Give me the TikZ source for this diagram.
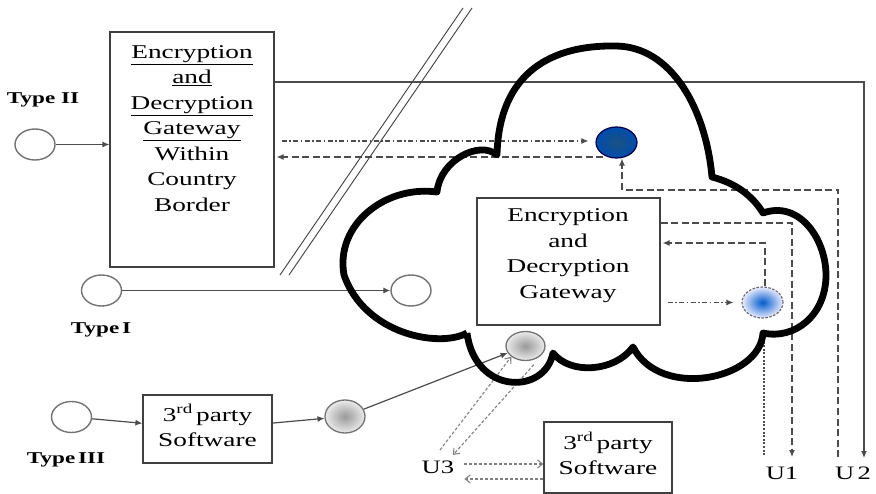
\documentclass[tikz,border=0pt]{standalone}
\usepackage{fontspec}
\setmainfont[FakeStretch=1.4]{Liberation Serif}
\usetikzlibrary{arrows.meta,shapes.geometric}
\pgfdeclarelayer{back}
\pgfsetlayers{back,main}

\begin{document}
\begin{tikzpicture}[x=1pt,y=-1pt,
  boxtext/.style={align=center,font=\fontsize{19.5}{25.5}\selectfont},
  tlabel/.style={font=\bfseries\fontsize{16.5}{20}\selectfont},
  ulabel/.style={font=\fontsize{19}{22}\selectfont},
  frame/.style={draw=black!75,line width=1.2pt,fill=white,inner sep=0pt},
  hole/.style={ellipse,draw=black!55,line width=1.4pt,fill=white,
    minimum width=40pt,minimum height=31pt,inner sep=0pt},
  wire/.style={draw=black!70,line width=1.2pt},
  tip/.style={-{Latex[length=7pt,width=6pt]}},
  dashdot/.style={wire,dash pattern=on 5pt off 2.5pt on 1.5pt off 2.5pt},
  longdash/.style={wire,dash pattern=on 7pt off 3.5pt},
  fine/.style={wire,dash pattern=on 2pt off 1.6pt},
  grayflow/.style={draw=black!50,line width=1.1pt,dash pattern=on 3pt off 2pt,
    -{Straight Barb[length=5pt,width=8pt]}}
]
\useasboundingbox (0,0) rectangle (876,494);
\begin{pgfonlayer}{back}
\fill[white] (0,0) rectangle (876,494);
\end{pgfonlayer}

% cloud outline
\draw[line width=6.8pt,line join=round]
  (467,333) .. controls (440,348) and (365,335) .. (344,275)
  .. controls (335,225) and (385,185) .. (437,192)
  .. controls (440,160) and (480,140) .. (497,155)
  .. controls (499,72) and (552,45) .. (615,46)
  .. controls (672,46) and (706,110) .. (712,177)
  .. controls (735,183) and (752,195) .. (763,213)
  .. controls (800,200) and (826,240) .. (826,275)
  .. controls (826,315) and (795,340) .. (763,333)
  .. controls (760,380) and (660,400) .. (633,347)
  .. controls (615,372) and (570,375) .. (553,353)
  .. controls (545,395) and (475,395) .. (467,333);

% border marks
\draw[draw=black!75,line width=0.9pt] (463,8) -- (280,275);
\draw[draw=black!75,line width=0.9pt] (472,8) -- (289,275);

% boxes
\node[frame,minimum width=164pt,minimum height=235pt] (gwA) at (192,149.5) {};
\node[boxtext] (gwAtext) at (192,128.5)
  {\underline{Encryption}\\\underline{and}\\\underline{Decryption}\\\underline{Gateway}\\Within\\Country\\Border};
\node[frame,minimum width=183pt,minimum height=127pt] (gwB) at (568.5,261.5) {};
\node[boxtext] (gwBtext) at (568,255.5) {Encryption\\and\\Decryption\\Gateway};
\node[frame,minimum width=129pt,minimum height=68pt] (swA) at (207.5,429) {};
\node[boxtext] (swAtext) at (207.5,425.5) {3\textsuperscript{rd}\,party\\Software};
\node[frame,minimum width=128pt,minimum height=71pt] (swB) at (608,457.5) {};
\node[boxtext] (swBtext) at (608,453.5) {3\textsuperscript{rd}\,party\\Software};

% end points
\node[hole] (t2) at (35,144.5) {};
\node[hole] (t1) at (101.5,290.5) {};
\node[hole] (t3) at (71.5,417) {};
\node[hole] (c1) at (411,290.5) {};
\node[ellipse,draw=black!55,line width=1.3pt,inner color=black!40,outer color=black!8,
  minimum width=40pt,minimum height=33pt,inner sep=0pt] (g1) at (345,416.5) {};
\node[ellipse,draw=black!55,line width=1.3pt,inner color=black!40,outer color=black!8,
  minimum width=39pt,minimum height=29pt,inner sep=0pt] (g2) at (525.5,346) {};
\node[ellipse,draw=blue!30!black,line width=1.2pt,inner color=blue!45!cyan!45!black!90!white,
  outer color=blue!55!black!70!cyan,
  minimum width=41pt,minimum height=31pt,inner sep=0pt] (dk) at (616.5,142.5) {};
\node[ellipse,draw=black!60,line width=1.1pt,dash pattern=on 2.5pt off 1.5pt,
  inner color=blue!55!cyan!80!black,outer color=blue!8,
  minimum width=41pt,minimum height=31pt,inner sep=0pt] (lt) at (762.5,302.5) {};

% labels
\node[tlabel] (lt2) at (43,100) {Type II};
\node[tlabel] (lt1) at (101,330) {Type\,I};
\node[tlabel] (lt3) at (66,460) {Type\,III};
\node[ulabel] (u3) at (438,467) {U3};
\node[ulabel] (u1) at (782,473) {U1};
\node[ulabel] (u2) at (853,473) {U\,2};

\coordinate (u1in) at (792,457);
\coordinate (u1dot) at (764,455);
\coordinate (u2in) at (864,458);
\coordinate (u2dash) at (838,457);
\coordinate (cloudedge) at (764,338);
\coordinate (u3a) at (440,450);
\coordinate (u3b) at (453,455);

\begin{pgfonlayer}{back}
% plain links
\draw[wire,tip] (t2) -- (gwA.west |- t2);
\draw[wire,tip] (t1) -- (c1);
\draw[wire,tip] (t3) -- (swA);
\draw[wire,tip] (swA) -- (g1);
\draw[wire,tip] (g1) -- (g2);
\draw[wire,tip] (gwA.north east |- 0,82) -| (u2in);

% outer gateway and the dark store
\draw[dashdot,tip,shorten <=7pt,shorten >=7pt] (gwA.east |- 0,141) -- (dk.west |- 0,141);
\draw[longdash,tip,shorten >=2pt] (dk.west |- 0,157) ++(8,0) -- (gwA.east |- 0,157);
\draw[longdash,tip] (u2dash) |- (622,190) -- (dk.south -| 622,0);

% inner gateway and the light store
\draw[longdash,tip] (gwB.east |- 0,223) -| (u1in);
\draw[longdash,tip,shorten >=2pt] (lt.north -| 765,0) |- (gwB.east |- 0,243);
\draw[dashdot,tip,shorten <=7pt,shorten >=8pt] (gwB.east |- lt) -- (lt.west);
\draw[fine] (cloudedge) -- (u1dot);

% third-party software path
\draw[grayflow] (u3a) -- (g2.south west);
\draw[grayflow] (g2.south east) ++(-6,8) -- (u3b);
\draw[grayflow] (u3.east |- 0,464) ++(6,0) -- (swB.west |- 0,464);
\draw[grayflow] (swB.west |- 0,479) -- ++(-79,0);
\end{pgfonlayer}
\end{tikzpicture}
\end{document}
